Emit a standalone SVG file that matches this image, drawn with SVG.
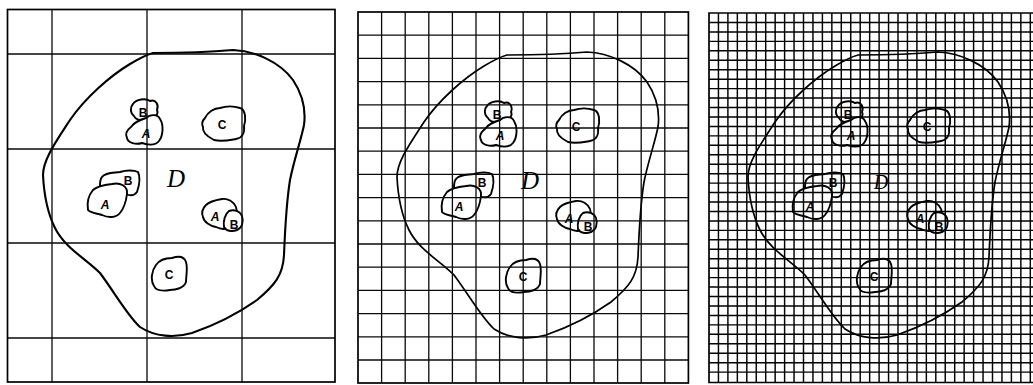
<svg xmlns="http://www.w3.org/2000/svg" xmlns:xlink="http://www.w3.org/1999/xlink" width="1033" height="385" viewBox="0 0 1033 385">
<style>
.bg{fill:#fff}
.grid{fill:none;stroke:#0a0a0a;stroke-width:1.3}
.grid3{fill:none;stroke:#000;stroke-width:1.45}
.border{fill:none;stroke:#000;stroke-width:1.7}
.outline{fill:none;stroke:#000;stroke-width:2.1}
.blob{fill:#fff;stroke:#000;stroke-width:1.9;stroke-linejoin:round}
.lbl{font-family:"Liberation Sans",Arial,sans-serif;font-size:12px;font-weight:bold;fill:#000;text-anchor:middle}
.la{font-style:italic}
.dl{font-family:"Liberation Serif","Times New Roman",serif;font-style:italic;font-size:25px;fill:#000;text-anchor:middle}
</style>
<defs>
<path id="dshape" d="M153,53 C175,53 200,53 233,50 C255,51 280,62 293,80 C303,95 306,110 304,125 C301,140 294,160 290,180 C286,205 285,230 284,255 C283,275 275,285 257,300 C240,312 215,325 192,333 C175,338 155,337 140,327 C127,315 115,293 100,273 C85,258 65,248 55,228 C47,212 44,195 43,175 C43,160 55,143 70,120 C85,98 110,76 130,64 C140,58 146,55 153,53 Z"/>
<path id="bTop" d="M133,104 C136,99 146,98 150,101 C156,99 159,105 157,110 C159,114 155,118 150,118 C145,121 136,121 134,116 C130,113 130,107 133,104 Z"/>
<path id="aTop" d="M131,127 C134,122 140,120 146,118 C150,114 158,114 160,119 C164,125 163,136 159,141 C155,146 148,145 142,143 C136,145 128,143 127,138 C125,134 127,130 131,127 Z"/>
<path id="cTop" d="M205,118 C208,112 214,108 220,108 C226,106 234,106 240,108 C246,110 246,120 244,126 C245,133 242,138 236,139 C230,140 222,142 214,140 C208,137 202,133 203,127 C201,123 203,120 205,118 Z"/>
<path id="bMid" d="M102,177 C106,172 114,173 120,172 C126,170 134,170 138,172 C141,178 139,186 137,192 C134,196 130,196 126,194 L100,186 C100,182 100,179 102,177 Z"/>
<path id="aMid" d="M93,190 C97,186 104,185 112,184 C120,182 128,186 127,194 C126,202 124,208 120,213 C116,218 108,218 102,215 C96,213 90,213 88,210 C87,204 88,196 93,190 Z"/>
<path id="aRight" d="M206,205 C210,201 216,200 222,199 C228,198 234,202 236,207 C238,212 236,220 232,225 C228,229 222,230 216,227 C210,226 204,222 203,217 C201,212 203,208 206,205 Z"/>
<path id="bRight" d="M229,211 C234,209 240,211 242,216 C244,222 242,228 237,230 C232,232 226,231 224,227 C223,221 225,214 229,211 Z"/>
<path id="cBot" d="M156,265 C160,259 166,258 172,258 C178,256 184,256 186,262 C188,268 186,276 186,282 C184,288 176,290 170,290 C164,291 156,291 154,286 C150,280 152,270 156,265 Z"/>
</defs>
<rect class="bg" x="0" y="0" width="1033" height="385"/>

<g id="panel1">
  <g id="figure1">
    <use xlink:href="#dshape" href="#dshape" class="outline"/>
    <use xlink:href="#bTop" href="#bTop" class="blob"/>
    <use xlink:href="#aTop" href="#aTop" class="blob"/>
    <use xlink:href="#cTop" href="#cTop" class="blob"/>
    <use xlink:href="#bMid" href="#bMid" class="blob"/>
    <use xlink:href="#aMid" href="#aMid" class="blob"/>
    <use xlink:href="#aRight" href="#aRight" class="blob"/>
    <use xlink:href="#bRight" href="#bRight" class="blob"/>
    <use xlink:href="#cBot" href="#cBot" class="blob"/>
  </g>
  <path class="grid" d="M52,9.5 V382 M147,9.5 V382 M242,9.5 V382 M7.5,54 H335 M7.5,149 H335 M7.5,243 H335 M7.5,338 H335"/>
  <rect class="border" x="7.5" y="9.5" width="327.5" height="372.5"/>
  <g id="labels1">
    <text class="lbl" x="143" y="117">B</text>
    <text class="lbl la" x="146" y="138">A</text>
    <text class="lbl" x="222" y="129">C</text>
    <text class="lbl" x="128" y="185">B</text>
    <text class="lbl la" x="105" y="209">A</text>
    <text class="lbl la" x="215" y="221">A</text>
    <text class="lbl" x="234" y="229">B</text>
    <text class="lbl" x="169" y="279">C</text>
    <text class="dl" x="176" y="187">D</text>
  </g>
</g>

<g id="panel2">
  <g id="figure2" transform="translate(354,2)">
    <use xlink:href="#dshape" href="#dshape" class="outline" style="stroke-width:1.7"/>
    <use xlink:href="#bTop" href="#bTop" class="blob"/>
    <use xlink:href="#aTop" href="#aTop" class="blob"/>
    <use xlink:href="#cTop" href="#cTop" class="blob"/>
    <use xlink:href="#bMid" href="#bMid" class="blob"/>
    <use xlink:href="#aMid" href="#aMid" class="blob"/>
    <use xlink:href="#aRight" href="#aRight" class="blob"/>
    <use xlink:href="#bRight" href="#bRight" class="blob"/>
    <use xlink:href="#cBot" href="#cBot" class="blob"/>
  </g>
  <path class="grid" d="M381.6,12 V383 M405.2,12 V383 M428.8,12 V383 M452.4,12 V383 M476,12 V383 M499.6,12 V383 M523.2,12 V383 M546.8,12 V383 M570.4,12 V383 M594,12 V383 M617.6,12 V383 M641.2,12 V383 M664.8,12 V383
  M358,35.2 H688.4 M358,58.4 H688.4 M358,81.6 H688.4 M358,104.8 H688.4 M358,128 H688.4 M358,151.2 H688.4 M358,174.4 H688.4 M358,197.6 H688.4 M358,220.8 H688.4 M358,244 H688.4 M358,267.2 H688.4 M358,290.4 H688.4 M358,313.6 H688.4 M358,336.8 H688.4 M358,360 H688.4"/>
  <rect class="border" x="358" y="12" width="330.4" height="371"/>
  <g id="labels2" transform="translate(354,2)">
    <text class="lbl" x="143" y="117">B</text>
    <text class="lbl la" x="146" y="138">A</text>
    <text class="lbl" x="222" y="129">C</text>
    <text class="lbl" x="128" y="185">B</text>
    <text class="lbl la" x="105" y="209">A</text>
    <text class="lbl la" x="215" y="221">A</text>
    <text class="lbl" x="234" y="229">B</text>
    <text class="lbl" x="169" y="279">C</text>
    <text class="dl" x="176" y="187">D</text>
  </g>
</g>

<g id="panel3">
  <g id="figure3" transform="translate(705,2)">
    <use xlink:href="#dshape" href="#dshape" class="outline" style="stroke-width:1.7"/>
    <use xlink:href="#bTop" href="#bTop" class="blob"/>
    <use xlink:href="#aTop" href="#aTop" class="blob"/>
    <use xlink:href="#cTop" href="#cTop" class="blob"/>
    <use xlink:href="#bMid" href="#bMid" class="blob"/>
    <use xlink:href="#aMid" href="#aMid" class="blob"/>
    <use xlink:href="#aRight" href="#aRight" class="blob"/>
    <use xlink:href="#bRight" href="#bRight" class="blob"/>
    <use xlink:href="#cBot" href="#cBot" class="blob"/>
  </g>
  <path class="grid3" d="M718.45,13 V383 M727.9,13 V383 M737.35,13 V383 M746.8,13 V383 M756.25,13 V383 M765.7,13 V383 M775.15,13 V383 M784.6,13 V383 M794.05,13 V383 M803.5,13 V383 M812.95,13 V383 M822.4,13 V383 M831.85,13 V383 M841.3,13 V383 M850.75,13 V383 M860.2,13 V383 M869.65,13 V383 M879.1,13 V383 M888.55,13 V383 M898,13 V383 M907.45,13 V383 M916.9,13 V383 M926.35,13 V383 M935.8,13 V383 M945.25,13 V383 M954.7,13 V383 M964.15,13 V383 M973.6,13 V383 M983.05,13 V383 M992.5,13 V383 M1001.95,13 V383 M1011.4,13 V383 M1020.85,13 V383 M1030.3,13 V383
  M709,22.45 H1033 M709,31.9 H1033 M709,41.35 H1033 M709,50.8 H1033 M709,60.25 H1033 M709,69.7 H1033 M709,79.15 H1033 M709,88.6 H1033 M709,98.05 H1033 M709,107.5 H1033 M709,116.95 H1033 M709,126.4 H1033 M709,135.85 H1033 M709,145.3 H1033 M709,154.75 H1033 M709,164.2 H1033 M709,173.65 H1033 M709,183.1 H1033 M709,192.55 H1033 M709,202 H1033 M709,211.45 H1033 M709,220.9 H1033 M709,230.35 H1033 M709,239.8 H1033 M709,249.25 H1033 M709,258.7 H1033 M709,268.15 H1033 M709,277.6 H1033 M709,287.05 H1033 M709,296.5 H1033 M709,305.95 H1033 M709,315.4 H1033 M709,324.85 H1033 M709,334.3 H1033 M709,343.75 H1033 M709,353.2 H1033 M709,362.65 H1033 M709,372.1 H1033"/>
  <path class="border" d="M1033,13 H709 V382.5 H1033"/>
  <g id="labels3" transform="translate(705,2)">
    <text class="lbl" x="143" y="117">B</text>
    <text class="lbl la" x="146" y="138">A</text>
    <text class="lbl" x="222" y="129">C</text>
    <text class="lbl" x="128" y="185">B</text>
    <text class="lbl la" x="105" y="209">A</text>
    <text class="lbl la" x="215" y="221">A</text>
    <text class="lbl" x="234" y="229">B</text>
    <text class="lbl" x="169" y="279">C</text>
    <text class="dl" x="176" y="187" style="font-size:20px">D</text>
  </g>
</g>
</svg>
